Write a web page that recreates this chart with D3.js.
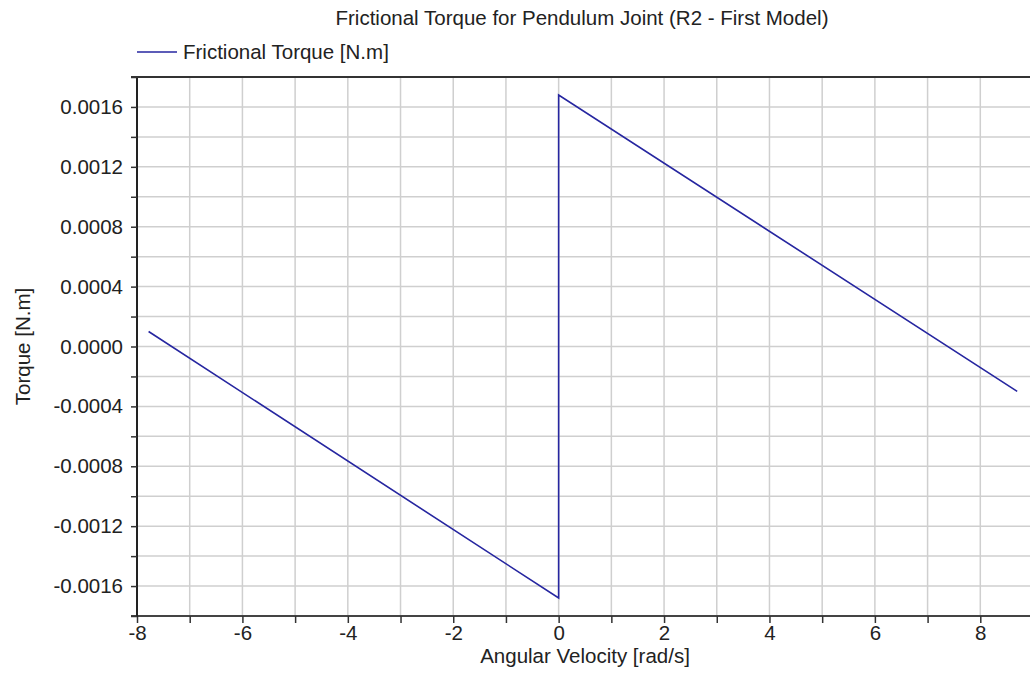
<!DOCTYPE html>
<html>
<head>
<meta charset="utf-8">
<script src="https://cdn.jsdelivr.net/npm/d3@7"></script>
<style>
  body { margin: 0; background: #fff; }
  text { font-family: "Liberation Sans", Arial, sans-serif; fill: #222; }
</style>
</head>
<body>
<svg id="chart" width="1030" height="675"></svg>
<script>
// data
var velocity = [-7.78, 0, 0, 8.70];
var torque = [0.000100, -0.00168, 0.00168, -0.000300];
var xMajor = [-8, -6, -4, -2, 0, 2, 4, 6, 8];
var yMajor = [-0.0016, -0.0012, -0.0008, -0.0004, 0, 0.0004, 0.0008, 0.0012, 0.0016];

var svg = d3.select("#chart");
var fs = 20.5;
var pLeft = 137, pRight = 1033, pTop = 77, pBottom = 616;

var x = d3.scaleLinear().domain([-8, 9]).range([pLeft, pRight]);
var y = d3.scaleLinear().domain([-0.0018, 0.0018]).range([pBottom, pTop]);

var xGrid = d3.range(-8, 10, 1);
var yGrid = d3.range(-9, 10).map(function(i) { return i * 0.0002; });

// grid
svg.append("g").selectAll("line")
    .data(xGrid.filter(function(d) { return d > -8; }))
  .enter().append("line")
    .attr("x1", function(d) { return x(d); })
    .attr("x2", function(d) { return x(d); })
    .attr("y1", pTop).attr("y2", pBottom)
    .attr("stroke", "#cfcfcf").attr("stroke-width", 1.5);

svg.append("g").selectAll("line")
    .data(yGrid.filter(function(d, i) { return i > 0 && i < yGrid.length - 1; }))
  .enter().append("line")
    .attr("x1", pLeft).attr("x2", pRight)
    .attr("y1", function(d) { return y(d); })
    .attr("y2", function(d) { return y(d); })
    .attr("stroke", "#cfcfcf").attr("stroke-width", 1.5);

// axes
var xAxis = d3.axisBottom(x).tickValues(xGrid).tickSize(7)
    .tickFormat(function(d) { return xMajor.indexOf(d) >= 0 ? d : ""; });
var gx = svg.append("g").attr("transform", "translate(0," + pBottom + ")").call(xAxis);
gx.select(".domain").attr("d", "M" + (pLeft - 6) + ",0H" + pRight).attr("stroke", "#444").attr("stroke-width", 2);
gx.selectAll(".tick line").attr("stroke", "#333").attr("stroke-width", 1.5);
gx.selectAll(".tick text").attr("font-size", fs).attr("y", 9).attr("font-family", "Liberation Sans, Arial, sans-serif").attr("fill", "#222");

var yAxis = d3.axisLeft(y).tickValues(yGrid).tickSize(6)
    .tickFormat(function(d) {
      var m = yMajor.some(function(v) { return Math.abs(v - d) < 1e-9; });
      return m ? d3.format(".4f")(Math.abs(d) < 1e-12 ? 0 : d) : "";
    });
var gy = svg.append("g").attr("transform", "translate(" + pLeft + ",0)").call(yAxis);
gy.select(".domain").attr("d", "M0," + pTop + "V" + (pBottom + 1)).attr("stroke", "#222").attr("stroke-width", 2);
gy.selectAll(".tick line").attr("stroke", "#333").attr("stroke-width", 1.5);
gy.selectAll(".tick text").attr("font-size", fs).attr("x", -14).attr("font-family", "Liberation Sans, Arial, sans-serif").attr("fill", "#222")
    .text(function() { return d3.select(this).text().replace("−", "-"); });

// top border
svg.append("line").attr("x1", pLeft - 6).attr("x2", pRight).attr("y1", pTop).attr("y2", pTop)
    .attr("stroke", "#333").attr("stroke-width", 2);

// series
var pts = velocity.map(function(v, i) { return [v, torque[i]]; });
svg.append("path")
    .datum(pts)
    .attr("fill", "none")
    .attr("stroke", "#2626a0")
    .attr("stroke-width", 1.6)
    .attr("d", d3.line().x(function(d) { return x(d[0]); }).y(function(d) { return y(d[1]); }));

// title, legend, labels
svg.append("text").attr("x", 582).attr("y", 25).attr("text-anchor", "middle")
    .attr("font-size", fs).text("Frictional Torque for Pendulum Joint (R2 - First Model)");

svg.append("line").attr("x1", 137).attr("x2", 177).attr("y1", 52).attr("y2", 52)
    .attr("stroke", "#2626a0").attr("stroke-width", 1.6);
svg.append("text").attr("x", 183).attr("y", 59).attr("font-size", fs).text("Frictional Torque [N.m]");

svg.append("text").attr("x", (pLeft + pRight) / 2).attr("y", 663).attr("text-anchor", "middle")
    .attr("font-size", fs).text("Angular Velocity [rad/s]");

svg.append("text").attr("transform", "translate(30," + (pTop + pBottom) / 2 + ") rotate(-90)")
    .attr("text-anchor", "middle").attr("font-size", fs).text("Torque [N.m]");
</script>
</body>
</html>
